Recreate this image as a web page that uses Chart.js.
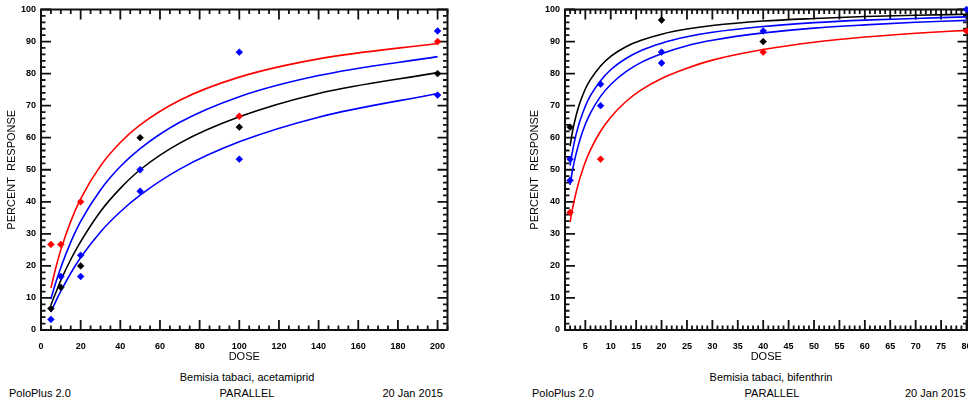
<!DOCTYPE html>
<html><head><meta charset="utf-8">
<script src="https://cdn.jsdelivr.net/npm/chart.js@4.4.1/dist/chart.umd.min.js"></script>
<style>
html,body{margin:0;padding:0;background:#fff;overflow:hidden;width:968px;height:410px;}
body{position:relative;font-family:"Liberation Sans",Arial,sans-serif;}
.cw{position:absolute;top:0;height:370px;}
#w1{left:0;width:484px;}
#w2{left:523px;width:481px;}
.t{position:absolute;font-size:11px;line-height:13px;color:#000;white-space:pre;}
.c{transform:translateX(-50%);}
.r{transform:translateX(-100%);}
</style></head><body>
<div id="w1" class="cw"><canvas id="c1"></canvas></div>
<div id="w2" class="cw"><canvas id="c2"></canvas></div>
<div class="t c" style="left:247px;top:371px">Bemisia tabaci, acetamiprid</div>
<div class="t" style="left:9px;top:387px">PoloPlus 2.0</div>
<div class="t c" style="left:247px;top:387px">PARALLEL</div>
<div class="t r" style="left:443px;top:387px">20 Jan 2015</div>
<div class="t c" style="left:771px;top:371px">Bemisia tabaci, bifenthrin</div>
<div class="t" style="left:532px;top:387px">PoloPlus 2.0</div>
<div class="t c" style="left:772px;top:387px">PARALLEL</div>
<div class="t" style="left:905px;top:387px">20 Jan 2015</div>
<script>
// ---------- tick labels ----------
const yTicks = [0,10,20,30,40,50,60,70,80,90,100];
const leftXTicks = [0,20,40,60,80,100,120,140,160,180,200];
const rightXTicks = [5,10,15,20,25,30,35,40,45,50,55,60,65,70,75,80];

// ---------- left chart: acetamiprid ----------
const leftCurveDoses   = [5, 7.5, 10, 15, 20, 30, 40, 50, 70, 100, 140, 200];
const leftRedCurve     = [13.1, 19.5, 25.0, 33.9, 40.9, 51.2, 58.5, 64.0, 71.7, 78.9, 84.6, 89.4];
const leftBlueHiCurve  = [9.7, 14.9, 19.5, 27.4, 33.9, 43.7, 51.0, 56.6, 64.8, 72.8, 79.4, 85.3];
const leftBlackCurve   = [7.8, 11.7, 15.5, 22.0, 27.6, 37.0, 44.2, 50.0, 58.3, 66.5, 73.8, 80.3];
const leftBlueLoCurve  = [5.6, 9.0, 12.1, 17.7, 22.6, 30.6, 36.9, 42.1, 50.2, 58.7, 66.4, 73.8];

const leftRedDoses   = [5, 10, 20, 100, 200];
const leftRedResp    = [26.7, 26.7, 40, 66.7, 90];
const leftBlackDoses = [5, 10, 20, 50, 100, 200];
const leftBlackResp  = [6.7, 13.3, 20, 60, 63.3, 80];
const leftBlueDoses  = [5, 10, 20, 20, 50, 50, 100, 100, 200, 200];
const leftBlueResp   = [3.3, 16.7, 23.3, 16.7, 50, 43.3, 86.7, 53.3, 93.3, 73.3];

// ---------- right chart: bifenthrin ----------
const rightCurveDoses  = [2, 2.5, 3, 3.5, 4, 5, 6, 8, 10, 13, 16, 20, 25, 30, 40, 50, 60, 70, 80];
const rightBlackCurve  = [57.4, 62.1, 65.7, 68.7, 71.2, 75.2, 78.1, 82.4, 85.4, 88.4, 90.4, 92.3, 93.9, 95.0, 96.4, 97.2, 97.8, 98.2, 98.5];
const rightBlueHiCurve = [51.3, 56.0, 59.8, 62.9, 65.5, 69.8, 73.1, 77.8, 81.2, 84.7, 87.2, 89.5, 91.5, 92.9, 94.7, 95.9, 96.7, 97.2, 97.7];
const rightBlueLoCurve = [45.3, 50.0, 53.8, 56.9, 59.7, 64.2, 67.7, 72.9, 76.6, 80.6, 83.5, 86.2, 88.7, 90.4, 92.7, 94.2, 95.2, 96.0, 96.6];
const rightRedCurve    = [33.7, 38.0, 41.7, 44.9, 47.7, 52.4, 56.2, 62.0, 66.4, 71.3, 74.9, 78.5, 81.7, 84.2, 87.5, 89.8, 91.4, 92.6, 93.5];

const rightRedDoses   = [2, 8, 40, 80];
const rightRedResp    = [36.7, 53.3, 86.7, 93.3];
const rightBlackDoses = [2, 20, 40];
const rightBlackResp  = [63.3, 96.7, 90];
const rightBlueDoses  = [2, 2, 8, 8, 20, 20, 40, 80];
const rightBlueResp   = [53.3, 46.7, 76.7, 70, 86.7, 83.3, 93.3, 100];

// ---------- helpers ----------
const RED = '#ff0000', BLUE = '#0000ff', BLACK = '#000000';
const FONT = '"Liberation Sans", Arial, sans-serif';
const zip = (xs, ys) => xs.map((x, i) => ({x, y: ys[i]}));

function pts(xs, ys, color) {
  return {data: zip(xs, ys), showLine: false, pointStyle: 'rectRot', pointRadius: 3.4,
    pointHoverRadius: 3.4, backgroundColor: color, borderColor: color, pointBorderWidth: 0.6,
    clip: false, order: 0};
}
function curve(xs, ys, color) {
  return {data: zip(xs, ys), showLine: true, pointRadius: 0, pointHoverRadius: 0,
    borderColor: color, backgroundColor: color, borderWidth: 1.6,
    cubicInterpolationMode: 'monotone', order: 1};
}

function makeFrame(xStart, xMinor, xMajor) {
  const isMaj = (v, arr) => arr.some(m => Math.abs(m - v) < 1e-6);
  return {
    id: 'frame',
    beforeDatasetsDraw(chart) {
      const ctx = chart.ctx, a = chart.chartArea;
      const x = chart.scales.x, y = chart.scales.y;
      ctx.save();
      ctx.strokeStyle = '#111';
      ctx.lineWidth = 1.8;
      ctx.beginPath();
      for (let i = 0; i < 400; i++) {
        const v = xStart + i * xMinor;
        if (v > x.max + 1e-6) break;
        const px = x.getPixelForValue(v);
        const len = isMaj(v, xMajor) ? 10 : 4.5;
        ctx.moveTo(px, a.bottom); ctx.lineTo(px, a.bottom - len);
        ctx.moveTo(px, a.top); ctx.lineTo(px, a.top + len);
      }
      for (let i = 0; i < 100; i++) {
        const v = i * 2;
        if (v > 100 + 1e-6) break;
        const py = y.getPixelForValue(v);
        const len = isMaj(v, yTicks) ? 10 : 4.5;
        ctx.moveTo(a.left, py); ctx.lineTo(a.left + len, py);
        ctx.moveTo(a.right, py); ctx.lineTo(a.right - len, py);
      }
      ctx.stroke();
      ctx.lineWidth = 2;
      ctx.strokeRect(a.left, a.top, a.right - a.left, a.bottom - a.top);
      ctx.restore();
    }
  };
}

function makeChart(id, datasets, xMin, xMax, xTicks, xMinor, padRight, yAxisW) {
  return new Chart(document.getElementById(id), {
    type: 'scatter',
    data: {datasets},
    plugins: [makeFrame(xMin, xMinor, xTicks)],
    options: {
      responsive: true, maintainAspectRatio: false, animation: false, devicePixelRatio: 1,
      layout: {padding: {top: 5, right: padRight, bottom: 0, left: 0}},
      plugins: {legend: {display: false}, tooltip: {enabled: false}},
      scales: {
        x: {
          type: 'linear', min: xMin, max: xMax,
          afterBuildTicks: s => { s.ticks = xTicks.map(v => ({value: v})); },
          afterFit: s => { s.height = 40; },
          grid: {display: false, drawTicks: false}, border: {display: false},
          ticks: {autoSkip: false, maxRotation: 0, padding: 12, color: '#000',
            font: {family: FONT, size: 9, weight: 'bold', lineHeight: 1}, callback: v => String(v)},
          title: {display: true, text: 'DOSE', color: '#000', padding: {top: 0, bottom: 6},
            font: {family: FONT, size: 11, weight: 'normal', lineHeight: 1.2}}
        },
        y: {
          type: 'linear', min: 0, max: 100,
          afterBuildTicks: s => { s.ticks = yTicks.map(v => ({value: v})); },
          afterFit: s => { s.width = yAxisW; },
          grid: {display: false, drawTicks: false}, border: {display: false},
          ticks: {autoSkip: false, padding: 5, color: '#000',
            font: {family: FONT, size: 9, weight: 'bold', lineHeight: 1}, callback: v => String(v)},
          title: {display: true, text: 'PERCENT  RESPONSE', color: '#000', padding: {top: 5.4, bottom: 0},
            font: {family: FONT, size: 11, weight: 'normal', lineHeight: 1.2}}
        }
      }
    }
  });
}

makeChart('c1', [
  pts(leftRedDoses, leftRedResp, RED),
  pts(leftBlackDoses, leftBlackResp, BLACK),
  pts(leftBlueDoses, leftBlueResp, BLUE),
  curve(leftCurveDoses, leftRedCurve, RED),
  curve(leftCurveDoses, leftBlueHiCurve, BLUE),
  curve(leftCurveDoses, leftBlackCurve, BLACK),
  curve(leftCurveDoses, leftBlueLoCurve, BLUE)
], 0, 205, leftXTicks, 5, 36.5, 41);

makeChart('c2', [
  pts(rightBlueDoses, rightBlueResp, BLUE),
  pts(rightRedDoses, rightRedResp, RED),
  pts(rightBlackDoses, rightBlackResp, BLACK),
  curve(rightCurveDoses, rightRedCurve, RED),
  curve(rightCurveDoses, rightBlueLoCurve, BLUE),
  curve(rightCurveDoses, rightBlueHiCurve, BLUE),
  curve(rightCurveDoses, rightBlackCurve, BLACK)
], 1, 80.2, rightXTicks, 1, 36.5, 42);
</script>
</body></html>
